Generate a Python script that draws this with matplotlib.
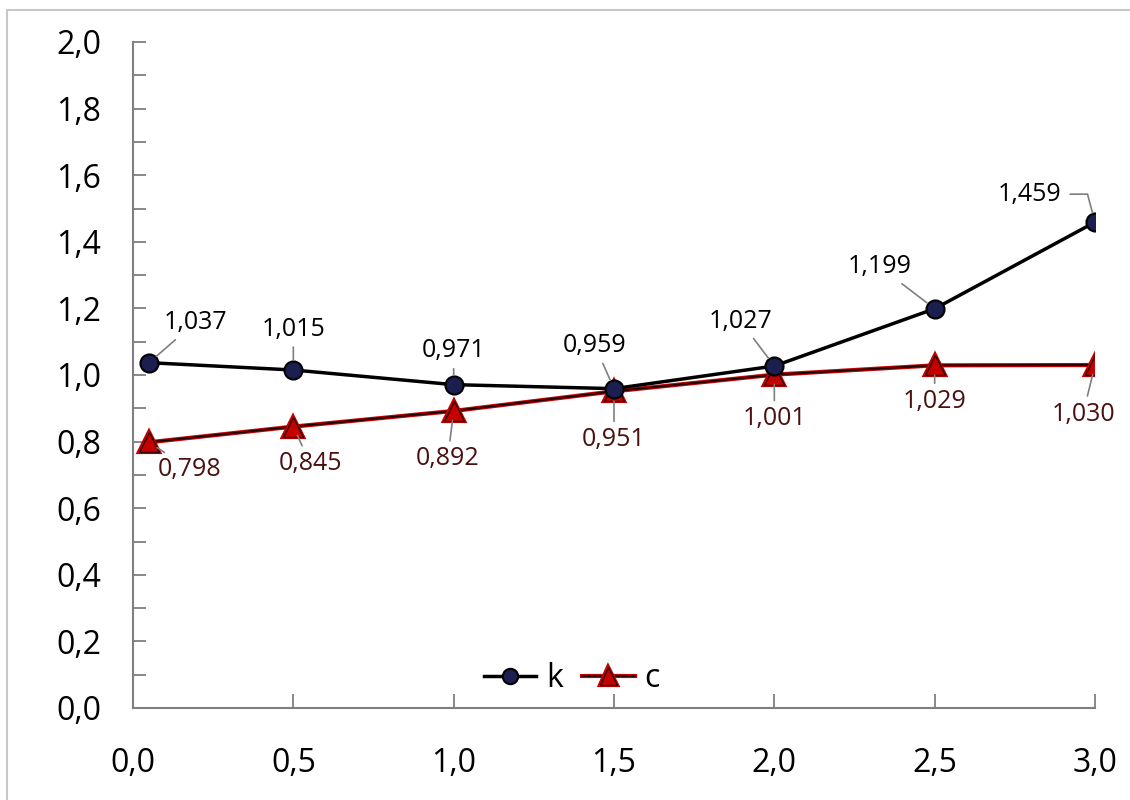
import matplotlib
matplotlib.use("Agg")
import matplotlib.pyplot as plt
import matplotlib.patheffects as pe
from matplotlib.patches import Rectangle
from matplotlib.ticker import MultipleLocator, FuncFormatter

plt.rcParams['font.family'] = ['Open Sans', 'DejaVu Sans']

# data
x_vals = [0.05, 0.5, 1.0, 1.5, 2.0, 2.5, 3.0]
k_vals = [1.037, 1.015, 0.971, 0.959, 1.027, 1.199, 1.459]
c_vals = [0.798, 0.845, 0.892, 0.951, 1.001, 1.029, 1.030]

# label offsets in pixels (dx, dy)
k_offsets = [(46, 40), (0, 41), (0, 34), (-19, 43), (-34, 45), (-55, 42), (-65, 28)]
c_offsets = [(41, -27), (17, -37), (-6, -48), (0, -48), (0, -44), (0, -36), (-12, -49)]

fig = plt.figure(figsize=(11.3, 8.0), dpi=100)
fig.patches.append(Rectangle((7 / 1130, -0.1), 1.2, 1 - 10 / 800 + 0.1,
                             transform=fig.transFigure, fill=False,
                             edgecolor='#c8c8c8', linewidth=1.5))
ax = fig.add_axes([133 / 1130, 1 - 708 / 800, (1095 - 133) / 1130, (708 - 42) / 800])

navy = '#1b1f4f'
red = '#c40000'
label_red = '#4a1010'

k_line, = ax.plot(x_vals, k_vals, color='black', lw=2.5, marker='o', ms=13,
                  mfc=navy, mec='black', mew=1.5, label='k', zorder=4)
c_line, = ax.plot(x_vals, c_vals, color='#200000', lw=1.4, marker='^', ms=14.5,
                  mfc=red, mec='#300000', mew=1.0, label='c', zorder=3,
                  path_effects=[pe.Stroke(linewidth=3.0, foreground=red), pe.Normal()])

leader = dict(arrowstyle='-', color='#7f7f7f', lw=1.2, shrinkA=2, shrinkB=7)

for x, v, (dx, dy) in zip(x_vals, k_vals, k_offsets):
    props = dict(leader)
    if v == k_vals[-1]:
        props['connectionstyle'] = 'angle,angleA=0,angleB=105,rad=0'
        props['shrinkA'] = 4
    ax.annotate(f"{v:.3f}".replace('.', ','), xy=(x, v), xytext=(dx, dy),
                textcoords='offset pixels', ha='center', va='center',
                fontsize=18, color='black', arrowprops=props, zorder=6)

for x, v, (dx, dy) in zip(x_vals, c_vals, c_offsets):
    ax.annotate(f"{v:.3f}".replace('.', ','), xy=(x, v), xytext=(dx, dy),
                textcoords='offset pixels', ha='center', va='center',
                fontsize=18, color=label_red, arrowprops=dict(leader), zorder=6)

ax.set_xlim(0, 3.0)
ax.set_ylim(0, 2.0)
ax.xaxis.set_major_locator(MultipleLocator(0.5))
ax.yaxis.set_major_locator(MultipleLocator(0.2))
ax.yaxis.set_minor_locator(MultipleLocator(0.1))
fmt = FuncFormatter(lambda v, p: f"{v:.1f}".replace('.', ','))
ax.xaxis.set_major_formatter(fmt)
ax.yaxis.set_major_formatter(fmt)

for s in ['top', 'right']:
    ax.spines[s].set_visible(False)
for s in ['left', 'bottom']:
    ax.spines[s].set_color('#7f7f7f')
    ax.spines[s].set_linewidth(1.5)

ax.tick_params(axis='both', which='both', direction='in', color='#7f7f7f',
               width=1.3, labelsize=23)
ax.tick_params(axis='y', which='both', length=9, pad=23)
ax.tick_params(axis='x', which='major', length=10, pad=28)

leg = ax.legend(handles=[k_line, c_line], loc='lower center',
                bbox_to_anchor=(0.456, 0.0), ncol=2, frameon=False,
                borderaxespad=0.0, fontsize=23, handlelength=1.65,
                handletextpad=0.3, columnspacing=0.6, markerscale=0.85)

fig.savefig('out.png', dpi=100, facecolor='white')
